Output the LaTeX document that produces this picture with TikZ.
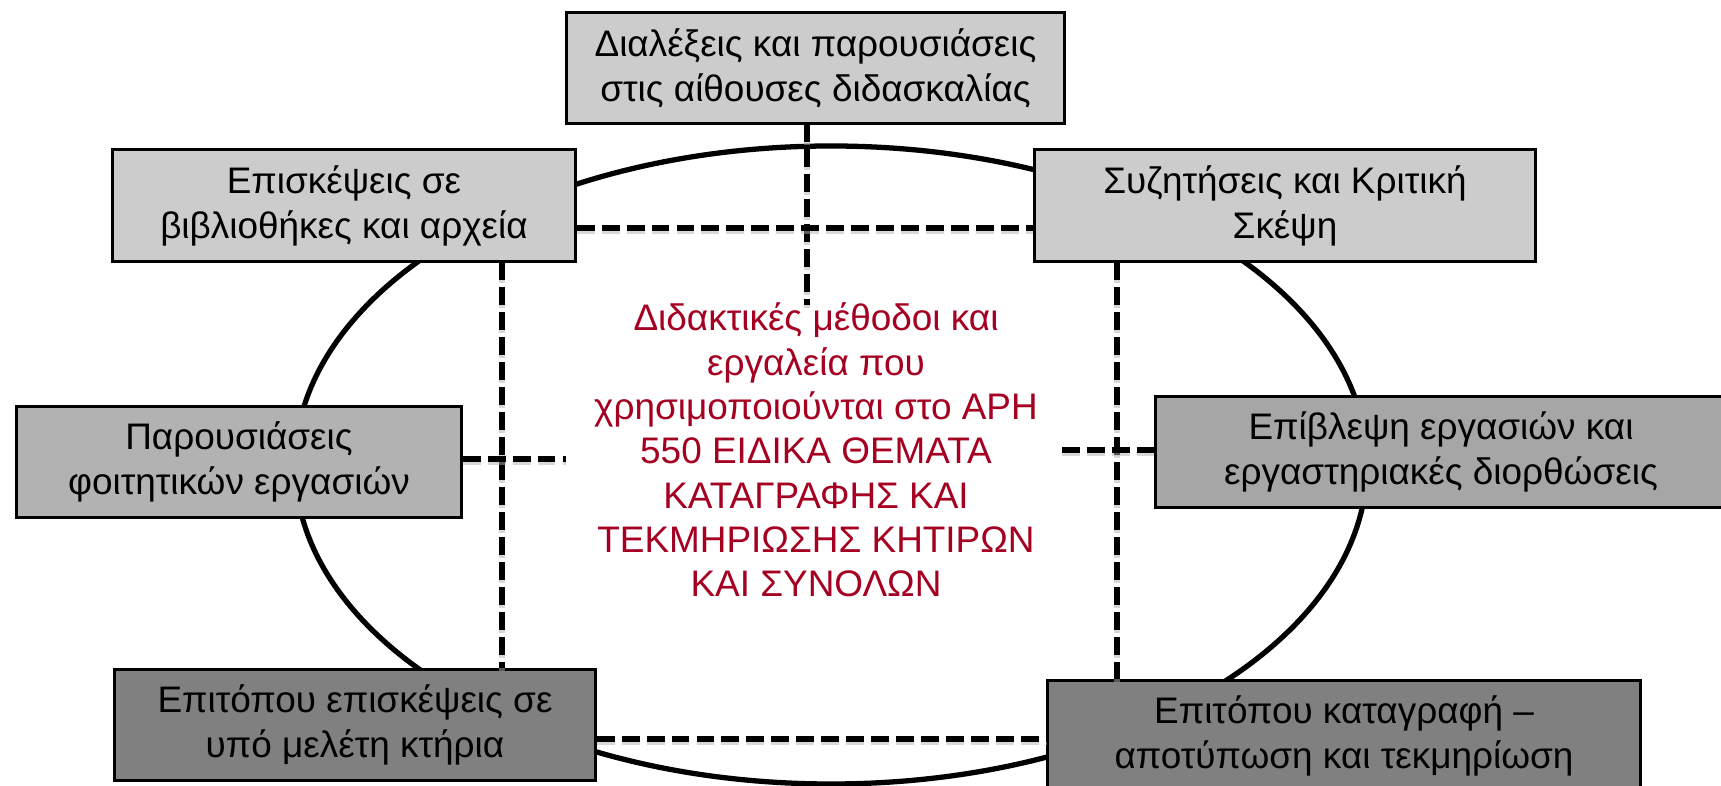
\documentclass[tikz,border=0pt]{standalone}
\usepackage{fontspec}
\setmainfont{Liberation Sans}
\definecolor{lightbox}{HTML}{CCCCCC}
\definecolor{midbox}{HTML}{B2B2B2}
\definecolor{midboxr}{HTML}{A6A6A6}
\definecolor{darkbox}{HTML}{808080}
\definecolor{centred}{HTML}{A50021}
\tikzset{
  box/.style={draw=black, line width=0.85pt, inner sep=0pt, align=center,
    font=\fontsize{10.5pt}{12.8pt}\selectfont},
  dline/.style={line width=1.65pt, dash pattern=on 5.1pt off 2pt,
    preaction={draw=black!30, opacity=0.5, line width=1.65pt, dash pattern=on 5.1pt off 2pt, transform canvas={yshift=-0.03cm}}},
  ringline/.style={line width=1.5pt},
}
\begin{document}
\begin{tikzpicture}[x=0.01cm, y=-0.01cm]
\useasboundingbox (0,0) rectangle (1721,786);
% ellipse
\draw[ringline] (831,465) ellipse [x radius=536, y radius=319];
% boxes
\node[box, fill=lightbox, minimum width=4.97cm, minimum height=1.10cm] (top) at (815.5,68)
  {Διαλέξεις και παρουσιάσεις\\στις αίθουσες διδασκαλίας};
\node[box, fill=lightbox, minimum width=4.62cm, minimum height=1.11cm] (tl) at (344,205.5)
  {Επισκέψεις σε\\βιβλιοθήκες και αρχεία};
\node[box, fill=lightbox, minimum width=5.00cm, minimum height=1.11cm] (tr) at (1285,205.5)
  {Συζητήσεις και Κριτική\\Σκέψη};
\node[box, fill=midbox, minimum width=4.44cm, minimum height=1.10cm] (ml) at (239,462)
  {Παρουσιάσεις\\φοιτητικών εργασιών};
\node[box, fill=midboxr, minimum width=5.70cm, minimum height=1.10cm] (mr) at (1441,452)
  {Επίβλεψη εργασιών και\\εργαστηριακές διορθώσεις};
\node[box, fill=darkbox, minimum width=4.80cm, minimum height=1.10cm] (bl) at (355,725)
  {Επιτόπου επισκέψεις σε\\υπό μελέτη κτήρια};
\node[box, fill=darkbox, minimum width=5.92cm, minimum height=1.10cm] (br) at (1344,736)
  {Επιτόπου καταγραφή –\\αποτύπωση και τεκμηρίωση};
% centre text
\node[align=center, text=centred, inner sep=0pt,
  font=\fontsize{10.5pt}{12.6pt}\selectfont] (centre) at (816,450)
  {Διδακτικές μέθοδοι και\\εργαλεία που\\χρησιμοποιούνται στο ΑΡΗ\\550 ΕΙΔΙΚΑ ΘΕΜΑΤΑ\\ΚΑΤΑΓΡΑΦΗΣ ΚΑΙ\\ΤΕΚΜΗΡΙΩΣΗΣ ΚΗΤΙΡΩΝ\\ΚΑΙ ΣΥΝΟΛΩΝ};
% helper coordinates
\coordinate (vt) at (807,305);
\coordinate (htop) at (0,228);
\coordinate (vl) at (502,0);
\coordinate (vr) at (1117,0);
\coordinate (hl) at (566,459);
\coordinate (hr) at (1062,450);
\coordinate (hbot) at (0,739);
% dashed connectors
\draw[dline] (vt |- top.south) -- (vt);
\draw[dline] (tl.east |- htop) -- (tr.west |- htop);
\draw[dline] (tl.south -| vl) -- (bl.north -| vl);
\draw[dline] (tr.south -| vr) -- (br.north -| vr);
\draw[dline] (ml.east |- hl) -- (hl);
\draw[dline] (hr) -- (mr.west |- hr);
\draw[dline] (bl.east |- hbot) -- (br.west |- hbot);
\end{tikzpicture}
\end{document}
